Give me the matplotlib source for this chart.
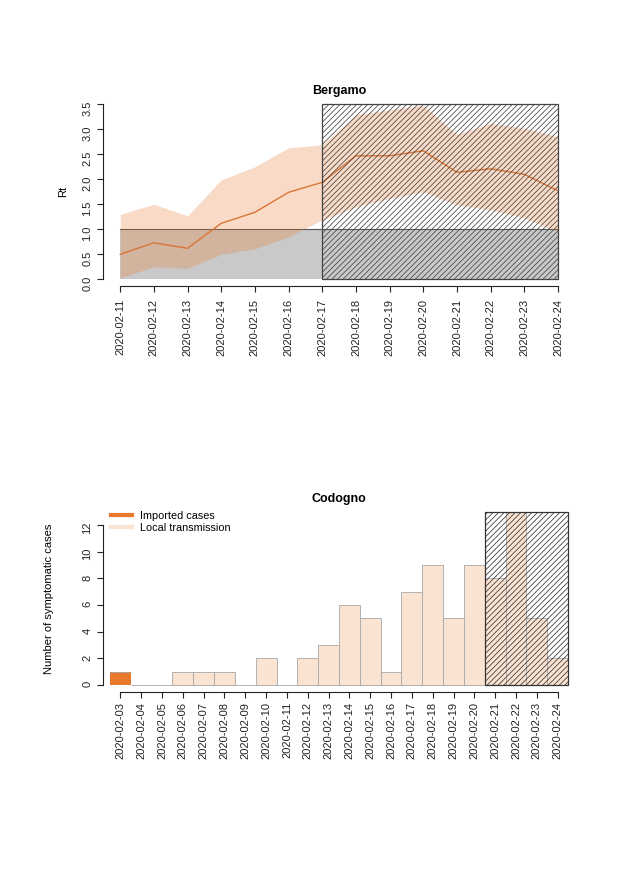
import matplotlib
matplotlib.use('Agg')
import matplotlib.pyplot as plt
from matplotlib.patches import Rectangle
from matplotlib.lines import Line2D
import numpy as np

plt.rcParams['font.family'] = ['Liberation Sans', 'DejaVu Sans']
plt.rcParams['hatch.linewidth'] = 0.55
plt.rcParams['hatch.color'] = '#444444'

# Bergamo Rt estimates
dates_top = ['2020-02-11', '2020-02-12', '2020-02-13', '2020-02-14', '2020-02-15',
             '2020-02-16', '2020-02-17', '2020-02-18', '2020-02-19', '2020-02-20',
             '2020-02-21', '2020-02-22', '2020-02-23', '2020-02-24']
rt_mean = [0.50, 0.73, 0.62, 1.12, 1.34, 1.74, 1.94, 2.47, 2.47, 2.57, 2.14, 2.21, 2.10, 1.77]
rt_low = [0.03, 0.25, 0.22, 0.50, 0.61, 0.85, 1.19, 1.45, 1.62, 1.75, 1.49, 1.39, 1.23, 0.95]
rt_high = [1.30, 1.50, 1.27, 1.99, 2.25, 2.63, 2.69, 3.29, 3.39, 3.48, 2.90, 3.12, 3.02, 2.85]
top_hatch_from = '2020-02-17'

# Codogno symptomatic cases
dates_bot = ['2020-02-03', '2020-02-04', '2020-02-05', '2020-02-06', '2020-02-07',
             '2020-02-08', '2020-02-09', '2020-02-10', '2020-02-11', '2020-02-12',
             '2020-02-13', '2020-02-14', '2020-02-15', '2020-02-16', '2020-02-17',
             '2020-02-18', '2020-02-19', '2020-02-20', '2020-02-21', '2020-02-22',
             '2020-02-23', '2020-02-24']
imported = [1, 0, 0, 0, 0, 0, 0, 0, 0, 0, 0, 0, 0, 0, 0, 0, 0, 0, 0, 0, 0, 0]
local = [0, 0, 0, 1, 1, 1, 0, 2, 0, 2, 3, 6, 5, 1, 7, 9, 5, 9, 8, 13, 5, 2]
bot_hatch_from = '2020-02-21'

orange = '#E8792D'
peach = '#FBE3D2'
axcol = '#222222'
hatch = '//////'

W, H = 630, 888
fig = plt.figure(figsize=(W / 100, H / 100), dpi=100)


def px_axes(left, right, top, bottom):
    return fig.add_axes([left / W, 1 - bottom / H, (right - left) / W, (bottom - top) / H])


def r_style(ax):
    for s in ['top', 'right']:
        ax.spines[s].set_visible(False)
    for s in ['left', 'bottom']:
        ax.spines[s].set_color(axcol)
        ax.spines[s].set_linewidth(0.8)
    ax.tick_params(colors=axcol, length=4.3, width=0.8, labelsize=8)
    ax.tick_params(axis='y', labelrotation=90, pad=3)
    ax.tick_params(axis='x', labelrotation=90)


# ---- top: Bergamo ----
ax1 = px_axes(102.7, 575.5, 97.3, 286.3)
x = np.arange(len(dates_top))
ax1.add_patch(Rectangle((0, 0), x[-1], 1, facecolor='#c9c9c9', edgecolor='none', zorder=1))
ax1.plot([0, x[-1]], [1, 1], color='#555555', lw=0.8, zorder=1.5)
ax1.fill_between(x, rt_low, rt_high, color=orange, alpha=0.27, lw=0, zorder=2)
ax1.plot(x, rt_mean, color='#DB7434', lw=1, zorder=3)
h0 = dates_top.index(top_hatch_from)
ax1.add_patch(Rectangle((h0, 0), x[-1] - h0, 3.5, facecolor='none', edgecolor='#444444',
                        lw=0.9, hatch=hatch, zorder=4))
ax1.set_xlim(-0.52, 13.52)
ax1.set_ylim(-0.14, 3.64)
ax1.set_yticks(np.arange(0, 3.6, 0.5))
ax1.set_yticklabels(['%.1f' % v for v in np.arange(0, 3.6, 0.5)])
ax1.set_xticks(x)
ax1.set_xticklabels(dates_top)
r_style(ax1)
ax1.tick_params(axis='x', pad=5)
ax1.spines['left'].set_bounds(0, 3.5)
ax1.spines['bottom'].set_bounds(0, x[-1])
ax1.set_ylabel('Rt', fontsize=8)
ax1.yaxis.set_label_coords(-0.073, 0.5)
ax1.set_title('Bergamo', fontsize=9, fontweight='bold', pad=1)

# ---- bottom: Codogno ----
ax2 = px_axes(102.7, 575.3, 504.8, 692)
xb = np.arange(len(dates_bot)) + 0.5
ax2.bar(xb, imported, width=1, color=orange, edgecolor='none', zorder=2)
ax2.bar(xb, local, width=1, bottom=imported, color=peach, edgecolor='#a8a8a8', lw=0.6, zorder=2)
b0 = dates_bot.index(bot_hatch_from)
ax2.add_patch(Rectangle((b0, 0), len(dates_bot) - b0, 13, facecolor='none', edgecolor='#333333',
                        lw=0.9, hatch=hatch, zorder=4))
ax2.set_xlim(-0.35, 22.35)
ax2.set_ylim(-0.52, 13.52)
ax2.set_yticks(np.arange(0, 13, 2))
ax2.set_xticks(xb)
ax2.set_xticklabels(dates_bot)
r_style(ax2)
ax2.tick_params(axis='x', pad=3)
ax2.spines['left'].set_bounds(0, 12)
ax2.spines['bottom'].set_bounds(xb[0], xb[-1])
ax2.set_ylabel('Number of symptomatic cases', fontsize=8)
ax2.yaxis.set_label_coords(-0.104, 0.5)
ax2.set_title('Codogno', fontsize=9, fontweight='bold', pad=2)

handles = [Line2D([], [], color=orange, lw=3), Line2D([], [], color=peach, lw=3)]
ax2.legend(handles, ['Imported cases', 'Local transmission'], loc='upper left',
           bbox_to_anchor=(111 / W, 1 - 511 / H), bbox_transform=fig.transFigure,
           frameon=False, fontsize=7.8, borderpad=0, borderaxespad=0, labelspacing=0.15,
           handlelength=1.9, handletextpad=0.8)

fig.savefig('out.png', dpi=100)
